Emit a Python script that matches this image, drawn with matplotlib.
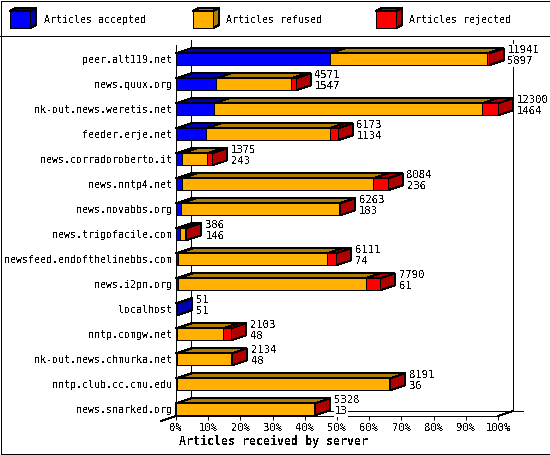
"""
Articles received by server - 3D style stacked bars
"""

import matplotlib
matplotlib.use("Agg")
import matplotlib.pyplot as plt
from matplotlib.patches import Polygon, Rectangle


# ==============================
# DATA
# ==============================

SERVERS = [
    "peer.alt119.net", "news.quux.org", "nk-out.news.weretis.net",
    "feeder.erje.net", "news.corradoroberto.it", "news.nntp4.net",
    "news.novabbs.org", "news.trigofacile.com", "newsfeed.endofthelinebbs.com",
    "news.i2pn.org", "localhost", "nntp.comgw.net",
    "nk-out.news.chmurka.net", "nntp.club.cc.cmu.edu", "news.snarked.org",
]
TOTAL = [11941, 4571, 12300, 6173, 1375, 8084, 6263, 386, 6111, 7790, 51, 2103, 2134, 8191, 5328]
ACCEPTED = [5897, 1547, 1464, 1134, 243, 236, 183, 146, 74, 61, 51, 48, 48, 36, 13]
REJECTED = [50, 165, 615, 307, 190, 550, 30, 5, 345, 550, 0, 290, 5, 10, 5]
X_TICKS = [0, 10, 20, 30, 40, 50, 60, 70, 80, 90, 100]


# ==============================
# STYLE
# ==============================

W, H = 550, 455
FONT = "DejaVu Sans Mono"
FRONT = {"accepted": "#0000ff", "refused": "#ffb000", "rejected": "#ff0000"}
TOP = {"accepted": "#0000b0", "refused": "#b07e00", "rejected": "#b00000"}
LEGEND = [("accepted", 10, 44), ("refused", 193, 226), ("rejected", 376, 409)]

# plot box in pixels
LEFT, RIGHT, BOTTOM, CEIL = 176, 498, 416, 45
ROW0, ROW_STEP, BAR_PX = 59.3, 25, 12
DEPTH_X, DEPTH_Y = 15, 5

plt.rcParams["text.antialiased"] = False
plt.rcParams["patch.antialiased"] = False
plt.rcParams["lines.antialiased"] = False
plt.rcParams["font.family"] = FONT
plt.rcParams["font.size"] = 7.2

LW = 0.7
DX = DEPTH_X * 100 / (RIGHT - LEFT)
DY = DEPTH_Y / ROW_STEP
HALF = BAR_PX / ROW_STEP / 2


def box_3d(ax, x0, x1, y0, y1, dx, dy, kind, z):
    """front, top and side faces of one segment"""
    ax.add_patch(Polygon([(x0, y0), (x0 + dx, y0 - dy), (x1 + dx, y0 - dy), (x1, y0)],
                         fc=TOP[kind], ec="black", lw=LW, zorder=z, clip_on=False))
    ax.add_patch(Polygon([(x1, y0), (x1 + dx, y0 - dy), (x1 + dx, y1 - dy), (x1, y1)],
                         fc=TOP[kind], ec="black", lw=LW, zorder=z, clip_on=False))
    ax.add_patch(Rectangle((x0, y0), x1 - x0, y1 - y0,
                           fc=FRONT[kind], ec="black", lw=LW, zorder=z + 0.1, clip_on=False))


fig = plt.figure(figsize=(W / 100, H / 100), dpi=100, facecolor="white")

# chrome: outer frame, separator, legend (pixel coordinates)
bg = fig.add_axes([0, 0, 1, 1])
bg.set_xlim(0, W)
bg.set_ylim(H, 0)
bg.axis("off")
bg.add_patch(Rectangle((0.5, 0.5), W - 1, H - 1.5, fc="white", ec="black", lw=LW))
bg.plot([0, W], [35.5, 35.5], color="black", lw=LW)
for kind, box_x, text_x in LEGEND:
    box_3d(bg, box_x, box_x + 20, 11, 28, 6, 3, kind, 3)
    bg.text(text_x, 20, f"Articles {kind}", ha="left", va="center", fontsize=7.2)

# main plot
ax = fig.add_axes([LEFT / W, 1 - BOTTOM / H, (RIGHT - LEFT) / W, (BOTTOM - CEIL) / H])
ax.patch.set_alpha(0)
ax.set_xlim(0, 100)
y_floor = (BOTTOM - ROW0) / ROW_STEP
y_top = (CEIL - ROW0) / ROW_STEP
ax.set_ylim(y_floor, y_top)

for side in ["top", "right"]:
    ax.spines[side].set_visible(False)
for side in ["left", "bottom"]:
    ax.spines[side].set_linewidth(LW)

# walls and floor
wall = dict(color="black", lw=LW, clip_on=False, zorder=1)
ax.plot([DX, DX], [y_floor - DY, y_top - DY], **wall)
ax.plot([100 + DX, 100 + DX], [y_floor - DY, y_top - DY], **wall)
ax.plot([DX, 100 + DX * 1.65], [y_floor - DY, y_floor - DY], **wall)
ax.plot([0, -DX], [y_floor, y_floor + DY], **wall)
ax.plot([100, 100 + DX], [y_floor, y_floor - DY], **wall)

ax.set_xticks(X_TICKS)
ax.set_xticklabels([f"{t}%" for t in X_TICKS], fontsize=7.6)
ax.tick_params(axis="x", length=3.2, width=LW, pad=2)
ax.set_yticks(range(len(SERVERS)))
ax.set_yticklabels(SERVERS, fontsize=7.2)
ax.tick_params(axis="y", length=0, pad=3)
ax.set_xlabel("Articles received by server", fontsize=8.4, fontweight="bold",
              ha="left", x=0.008, labelpad=1)

# bars, as percent of the biggest total
peak = max(TOTAL)
for i, server in enumerate(SERVERS):
    acc = ACCEPTED[i] / peak * 100
    rej = REJECTED[i] / peak * 100
    tot = TOTAL[i] / peak * 100
    edges = [("accepted", 0, acc), ("refused", acc, tot - rej), ("rejected", tot - rej, tot)]
    for j, (kind, x0, x1) in enumerate(edges):
        if x1 - x0 > 0:
            box_3d(ax, x0, x1, i - HALF, i + HALF, DX, DY, kind, 3 + j * 0.2)

    # value labels: total above accepted, white behind so the walls break
    for value, off in [(TOTAL[i], 6.8), (ACCEPTED[i], -1.4)]:
        ax.annotate(str(value), (tot + DX, i), xytext=(3, off), textcoords="offset points",
                    ha="left", va="center", fontsize=7.6, zorder=6, annotation_clip=False,
                    bbox=dict(fc="white", ec="none", pad=0.3))

fig.savefig("out.png", dpi=100)
